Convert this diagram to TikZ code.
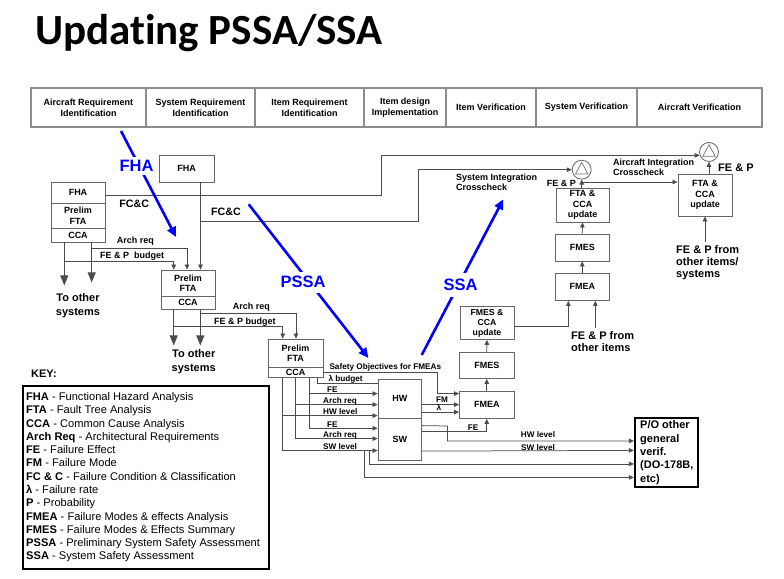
\documentclass[tikz,border=0pt]{standalone}
\usepackage{fontspec}
\setmainfont{Liberation Sans}
\newfontfamily\titlefont[Ligatures=NoCommon]{Carlito}
\usetikzlibrary{arrows.meta,calc}
\newcommand\myfs[2]{\fontsize{#1}{#2}\selectfont}
\newcommand\keyline[3]{\node[keyt] (k#1) at (26,{400.6+13.27*#1}) {\textbf{#2} - #3};}
\begin{document}
\begin{tikzpicture}[x=1pt,y=-1pt,
 bx/.style={draw=black!60, line width=0.8pt, fill=white, inner sep=0pt, align=center, font=\bfseries\myfs{9}{10.5}},
 hdr/.style={draw=black!45, line width=1.1pt, inner sep=0pt, align=center, font=\bfseries\myfs{9}{10.7}, minimum height=39pt},
 ln/.style={draw=black!70, line width=0.75pt},
 ar/.style={ln, -{Triangle[length=5pt,width=4.5pt]}},
 bigar/.style={ln, -{Triangle[length=10pt,width=8pt]}},
 lbl/.style={inner sep=0pt, font=\bfseries\myfs{9}{10}},
 slbl/.style={inner sep=0pt, anchor=base west, font=\bfseries\myfs{8.2}{9.5}},
 big/.style={inner sep=0pt, align=left, font=\bfseries\myfs{11}{12}},
 blu/.style={draw=blue, line width=2.6pt, -{Triangle[length=10pt,width=9pt]}},
 blbl/.style={fill=white, inner sep=1pt, text=blue, font=\bfseries\myfs{16.5}{18}},
 cir/.style={circle, draw=black!60, line width=0.8pt, minimum size=19pt, inner sep=0pt, fill=white},
 tri/.style={draw=black!55, line width=0.7pt},
 keyt/.style={anchor=base west, inner sep=0pt, font=\myfs{11.1}{13}},
]
\useasboundingbox (0,0) rectangle (784,578);
% title
\node[anchor=base west, inner sep=0pt, font=\titlefont\bfseries\myfs{43}{50}] (title) at (35,45) {Updating PSSA/SSA};
% header
\node[hdr, minimum width=115pt] (h1) at (88.5,107.5) {Aircraft Requirement\\Identification};
\node[hdr, minimum width=109pt] (h2) at (200.5,107.5) {System Requirement\\Identification};
\node[hdr, minimum width=109pt] (h3) at (309.5,107.5) {Item Requirement\\Identification};
\node[hdr, minimum width=82pt] (h4) at (405,107.5) {Item design\\Implementation};
\node[hdr, minimum width=90pt] (h5) at (491,107.5) {Item Verification};
\node[hdr, minimum width=101pt] (h6) at (586.5,107.5) {System Verification};
\node[hdr, minimum width=125pt] (h7) at (699.5,107.5) {Aircraft Verification};
% boxes
\node[bx, minimum width=55pt, minimum height=27pt] (fhaT) at (186.5,168.5) {FHA};
\node[bx, minimum width=54pt, minimum height=21pt] (lsF) at (78,192.5) {FHA};
\node[bx, minimum width=54pt, minimum height=25pt] (lsP) at (78,215.5) {Prelim\\FTA};
\node[bx, minimum width=54pt, minimum height=14pt] (lsC) at (78,235) {CCA};
\node[bx, minimum width=54pt, minimum height=26pt] (b2P) at (188,283) {Prelim\\FTA};
\node[bx, minimum width=54pt, minimum height=13pt] (b2C) at (188,302.5) {CCA};
\node[bx, minimum width=55pt, minimum height=28pt] (b3P) at (295.5,353) {Prelim\\FTA};
\node[bx, minimum width=55pt, minimum height=10pt] (b3C) at (295.5,372) {CCA};
\node[bx, minimum width=43.5pt, minimum height=39.5pt] (hw) at (399.75,398.75) {HW};
\node[bx, minimum width=43.5pt, minimum height=41.5pt] (sw) at (399.75,439.25) {SW};
\node[bx, minimum width=54.5pt, minimum height=27.5pt] (fmeaL) at (486.75,404.75) {FMEA};
\node[bx, minimum width=54.5pt, minimum height=26pt] (fmesL) at (486.75,365.5) {FMES};
\node[bx, minimum width=54pt, minimum height=33pt, font=\bfseries\myfs{8.7}{10}] (fmcu) at (487,323) {FMES \&\\CCA\\update};
\node[bx, minimum width=53.5pt, minimum height=27.5pt] (fmeaR) at (582.25,286.75) {FMEA};
\node[bx, minimum width=53.5pt, minimum height=27pt] (fmesR) at (582.25,247.5) {FMES};
\node[bx, minimum width=53pt, minimum height=34pt] (ftc1) at (582.5,205) {FTA \&\\CCA\\update};
\node[bx, minimum width=54pt, minimum height=42pt] (ftc2) at (705,195) {FTA \&\\CCA\\update};
\node[cir] (c1) at (581.7,169.7) {};
\node[cir] (c2) at (709,152) {};
\draw[tri] ($(c1)+(0,-7.3)$) -- ($(c1)+(-6.2,4.3)$) -- ($(c1)+(6.2,4.3)$) -- cycle;
\draw[tri] ($(c2)+(0,-7.3)$) -- ($(c2)+(-6.2,4.3)$) -- ($(c2)+(6.2,4.3)$) -- cycle;
\node[draw=black, line width=2.2pt, minimum width=63pt, minimum height=69pt, inner sep=0pt] (po) at (666.5,452.5) {};
\node[big, anchor=west, font=\bfseries\myfs{11}{13.3}] (poT) at (640,452.6) {P/O other\\general\\verif.\\(DO-178B,\\etc)};
% key
\node[anchor=west, inner sep=0pt, font=\bfseries\myfs{11}{13}] (keyh) at (31,373.3) {KEY:};
\node[draw=black, line width=2pt, minimum width=246.6pt, minimum height=183.3pt, inner sep=0pt] (key) at (146,477.65) {};
\keyline{0}{FHA}{Functional Hazard Analysis}
\keyline{1}{FTA}{Fault Tree Analysis}
\keyline{2}{CCA}{Common Cause Analysis}
\keyline{3}{Arch Req}{Architectural Requirements}
\keyline{4}{FE}{Failure Effect}
\keyline{5}{FM}{Failure Mode}
\keyline{6}{FC \& C}{Failure Condition \& Classification}
\keyline{7}{λ}{Failure rate}
\keyline{8}{P}{Probability}
\keyline{9}{FMEA}{Failure Modes \& effects Analysis}
\keyline{10}{FMES}{Failure Modes \& Effects Summary}
\keyline{11}{PSSA}{Preliminary System Safety Assessment}
\keyline{12}{SSA}{System Safety Assessment}
% top connectors
\draw[ar] ([yshift=-2.5pt]lsF.east) -- (381,195) |- (c2.200);
\draw[ar] ([xshift=14pt]fhaT.south) -- ([xshift=12.5pt]b2P.north);
\coordinate (j1) at (200.5,221.5);
\draw[ar] (j1) -- (418,221.5) |- (c1.west);
\node[lbl, font=\bfseries\myfs{10.7}{12}] (fcc1) at (134.2,204) {FC\&C};
\node[lbl, font=\bfseries\myfs{10.7}{12}] (fcc2) at (226,211.7) {FC\&C};
% left stack outputs
\draw[bigar] ([xshift=-13.7pt]lsC.south) -- ++(0,43);
\draw[bigar] ([xshift=13.7pt]lsC.south) -- ++(0,40);
\coordinate (j2) at (91.7,248);
\coordinate (j3) at (64.3,261);
\draw[ar] (j2) -| ([xshift=-1pt]b2P.north);
\draw[ar] (j3) -| ([xshift=-14.3pt]b2P.north);
\node[lbl, anchor=west] (ar1) at (116.7,240.7) {Arch req};
\node[lbl, anchor=west] (fe1) at (100,255.7) {FE \& P~ budget};
\node[big, align=center, font=\bfseries\myfs{11}{14}] (tos1) at (78,305.3) {To other\\systems};
% box 2 outputs
\draw[bigar] ([xshift=-14.3pt]b2C.south) -- ++(0,36);
\draw[bigar] ([xshift=12.3pt]b2C.south) -- ++(0,36);
\coordinate (j4) at (200.3,313.3);
\coordinate (j5) at (173.7,326.7);
\draw[ar] (j4) -| ([xshift=0.5pt]b3P.north);
\draw[ar] (j5) -| ([xshift=-12.8pt]b3P.north);
\node[lbl, anchor=west] (ar2) at (232.7,306.7) {Arch req};
\node[lbl, anchor=west] (fe2) at (214,322.3) {FE \& P budget};
\node[big, align=center, font=\bfseries\myfs{11}{14}] (tos2) at (193.7,361.2) {To other\\systems};
% box 3 outputs
\draw[ar] (b3C.east) -- (437,372) |- ([yshift=-3pt]fmeaL.north west);
\draw[ln] ([xshift=21.5pt]b3C.south) |- ([yshift=-4.5pt]hw.north west);
\draw[ar] ([xshift=13.5pt]b3C.south) |- ([yshift=-15pt]hw.north west);
\draw[ar] ([xshift=13.5pt]b3C.south) |- ([yshift=-10.2pt]sw.north west);
\draw[ar] ([xshift=-0.2pt]b3C.south) |- ([yshift=-26pt]hw.north west);
\draw[ar] ([xshift=-0.2pt]b3C.south) |- ([yshift=-20.5pt]sw.north west);
\draw[ar] ([xshift=-13.3pt]b3C.south) |- ([yshift=-37pt]hw.north west);
\draw[ar] ([xshift=-13.3pt]b3C.south) |- ([yshift=-32.5pt]sw.north west);
\coordinate (s1) at (364.3,451);
\coordinate (s2) at (369.5,451);
\draw[ar] (s1) |- ([yshift=-60.5pt]po.north west);
\draw[ar] (s2) |- ([yshift=-47pt]po.north west);
\node[slbl] (so) at (329.3,369.7) {Safety Objectives for FMEAs};
\node[slbl] (lb) at (328.3,381.5) {λ budget};
\node[slbl] (l1) at (327,392.3) {FE};
\node[slbl] (l2) at (323,403.3) {Arch req};
\node[slbl] (l3) at (323,414.3) {HW level};
\node[slbl] (l4) at (327,427) {FE};
\node[slbl] (l5) at (323,437.3) {Arch req};
\node[slbl] (l6) at (323,449.3) {SW level};
% HW / SW outputs
\draw[ar] ([yshift=-26pt]hw.north east) -- ([yshift=-14pt]fmeaL.north west);
\draw[ar] ([yshift=-33.5pt]hw.north east) -- ([yshift=-21.5pt]fmeaL.north west);
\node[slbl, anchor=base] (fm) at (442,402.5) {FM};
\node[slbl, anchor=base] (lam) at (439,410.7) {λ};
\draw[ar] ([yshift=-7.5pt]sw.north east) -- (447.5,426) |- ([yshift=-24pt]po.north west);
\draw[ar] ([yshift=-13.5pt]sw.north east) -| (fmeaL.south);
\draw[ar] ([yshift=-33pt]sw.north east) -- ([yshift=-33.5pt]po.north west);
\node[slbl, anchor=base] (fe3) at (473,430.5) {FE};
\node[slbl, anchor=base] (hwl) at (538,437.8) {HW level};
\node[slbl, anchor=base] (swl) at (538,450.2) {SW level};
% right column
\draw[ar] (fmeaL.north) -- (fmesL.south);
\draw[ar] (fmesL.north) -- (fmcu.south);
\draw[ar] ([yshift=-3.7pt]fmcu.east) -| ([xshift=-13.9pt]fmeaR.south);
\coordinate (fepI) at (595.3,327.5);
\draw[ar] (fepI) -- ([xshift=13.05pt]fmeaR.south);
\node[big, anchor=west] (fepIt) at (571,341.7) {FE \& P from\\other items};
\draw[ar] (fmeaR.north) -- (fmesR.south);
\draw[ar] (fmesR.north) -- (ftc1.south);
\draw[ar] (ftc1.north -| c1.south) -- (c1.south);
\coordinate (br1) at (581.7,182);
\draw[ar] (br1) -- (ftc2.west |- br1);
\draw[ar] (ftc2.north -| c2.south) -- (c2.south);
\coordinate (fepS) at (705,241.7);
\draw[ar] (fepS) -- (ftc2.south);
\node[big, anchor=west, font=\bfseries\myfs{11}{11.7}] (fepSt) at (676,262.6) {FE \& P from\\other items/\\systems};
\node[lbl, anchor=east] (fep1) at (576,183.7) {FE \& P};
\node[big, anchor=west] (fep2) at (718,167.7) {FE \& P};
\node[lbl, anchor=west, align=left] (sic) at (456,182.7) {System Integration\\Crosscheck};
\node[lbl, anchor=west, align=left] (aic) at (613,167) {Aircraft Integration\\Crosscheck};
% blue arrows
\coordinate (bA1) at (121,131);
\coordinate (bA2) at (176,237);
\coordinate (bP1) at (248.7,204.3);
\coordinate (bP2) at (368.5,358);
\coordinate (bS1) at (421.7,355);
\coordinate (bS2) at (503.3,199.3);
\draw[blu] (bA1) -- (bA2);
\draw[blu] (bP1) -- (bP2);
\draw[blu] (bS1) -- (bS2);
\node[blbl, minimum height=18pt] (tFHA) at (136.5,166) {FHA};
\node[blbl, minimum height=21pt] (tPSSA) at (303,282.3) {PSSA};
\node[blbl, minimum height=24pt] (tSSA) at (460.5,285) {SSA};
\end{tikzpicture}
\end{document}
